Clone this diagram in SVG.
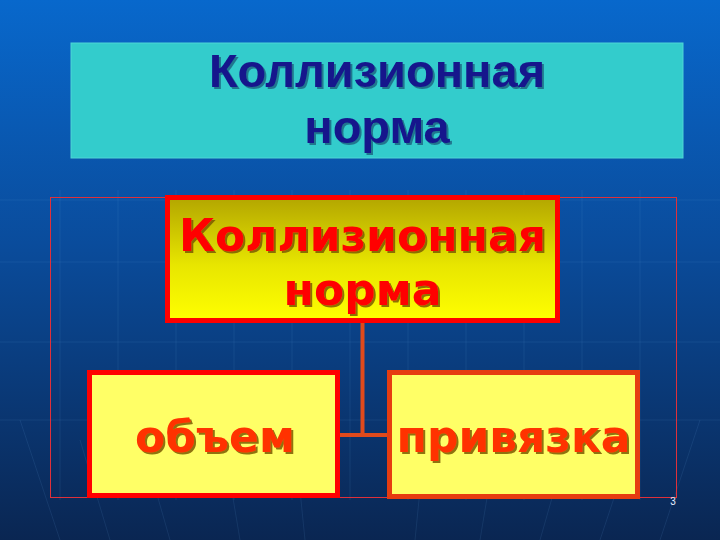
<svg xmlns="http://www.w3.org/2000/svg" width="720" height="540" viewBox="0 0 720 540">
  <defs>
    <linearGradient id="bg" x1="0" y1="0" x2="0" y2="1">
      <stop offset="0" stop-color="#0868cc"/>
      <stop offset="0.45" stop-color="#0a4c9c"/>
      <stop offset="1" stop-color="#0a2652"/>
    </linearGradient>
    <linearGradient id="mainFill" x1="0" y1="0" x2="0" y2="1">
      <stop offset="0" stop-color="#b3a600"/>
      <stop offset="0.55" stop-color="#e8e600"/>
      <stop offset="1" stop-color="#ffff00"/>
    </linearGradient>
    <filter id="shTitle" x="-10%" y="-30%" width="120%" height="160%">
      <feDropShadow dx="2" dy="2" stdDeviation="0.6" flood-color="#0b3c66" flood-opacity="0.6"/>
    </filter>
    <filter id="shLbl" x="-10%" y="-30%" width="120%" height="160%">
      <feDropShadow dx="2" dy="2" stdDeviation="0.4" flood-color="#7a5a00" flood-opacity="0.85"/>
    </filter>
    <style>
      .title { font-family: "Liberation Sans", Arial, sans-serif; font-weight: bold; font-size: 47px; fill: #14148c; text-anchor: middle; filter: url(#shTitle); }
      .lbl { font-family: "DejaVu Sans", Verdana, sans-serif; font-weight: bold; font-size: 44px; text-anchor: middle; filter: url(#shLbl); }
      .redText { fill: #ff0000; }
      .orangeText { fill: #ff3300; }
      .sub { fill: #ffff66; stroke-width: 5; }
      .conn { stroke: #e04a1c; stroke-width: 4; fill: none; }
      .grid { stroke: #6fa4e0; stroke-opacity: 0.12; stroke-width: 1; fill: none; }
    </style>
  </defs>

  <!-- background -->
  <rect x="0" y="0" width="720" height="540" fill="url(#bg)"/>
  <g class="grid">
    <path d="M0 262 H720 M0 342 H720 M0 420 H720 M0 200 H720"/>
    <path d="M60 190 V500 M118 190 V500 M176 190 V500 M234 190 V500 M292 190 V500 M350 190 V500 M408 190 V500 M466 190 V500 M524 190 V500 M582 190 V500 M640 190 V500"/>
    <path d="M20 420 L60 540 M80 440 L110 540 M150 470 L170 540 M230 480 L240 540 M300 490 L305 540 M420 490 L415 540 M490 480 L480 540 M560 470 L540 540 M630 450 L600 540 M700 420 L660 540"/>
  </g>

  <!-- title -->
  <g id="title">
    <rect x="71" y="43" width="612" height="115" fill="#33cccc" stroke="#4fd6d6" stroke-width="1"/>
    <text class="title" x="377" y="87">Коллизионная</text>
    <text class="title" x="377" y="143">норма</text>
  </g>

  <!-- frame -->
  <rect id="frame" x="50.5" y="197.5" width="626" height="300" fill="none" stroke="#e0303a" stroke-width="1"/>

  <!-- connectors -->
  <g id="connectors">
    <path class="conn" d="M362.5 321 V435 M338 435 H388"/>
  </g>

  <!-- main node -->
  <g id="node-main">
    <rect x="167.5" y="197.5" width="390" height="123" fill="url(#mainFill)" stroke="#ff0000" stroke-width="5"/>
    <text class="lbl redText" x="362.5" y="251">Коллизионная</text>
    <text class="lbl redText" x="362.5" y="305">норма</text>
  </g>

  <!-- left node -->
  <g id="node-obem">
    <rect class="sub" x="89.5" y="372.5" width="248" height="123" stroke="#ff0000"/>
    <text class="lbl orangeText" x="215" y="452">объем</text>
  </g>

  <!-- right node -->
  <g id="node-privyazka">
    <rect class="sub" x="389.5" y="372.5" width="248" height="124" stroke="#e63c10"/>
    <text class="lbl orangeText" x="513.5" y="452">привязка</text>
  </g>

  <!-- page number -->
  <text x="673" y="505" font-family="'Liberation Sans', Arial, sans-serif" font-size="10" fill="#e8f0ff" text-anchor="middle">3</text>
</svg>
